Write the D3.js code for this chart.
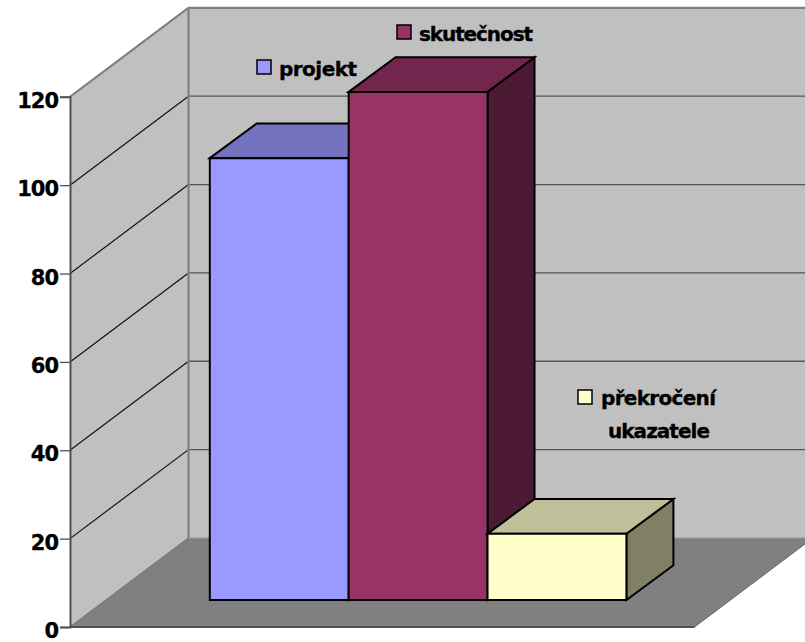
<!DOCTYPE html>
<html><head><meta charset="utf-8">
<script src="https://cdn.jsdelivr.net/npm/d3@7/dist/d3.min.js"></script>
<style>html,body{margin:0;padding:0;background:#fff}svg{display:block}
text{font-family:"DejaVu Sans",sans-serif;font-weight:700;fill:#000}</style>
</head><body><svg id="c" width="805" height="642"></svg>
<script>
const categories = ["projekt", "skutečnost", "překročení ukazatele"];
const values = [100, 115, 15];
const tickValues = [0, 20, 40, 60, 80, 100, 120];
const fills = ["#9999ff", "#993366", "#ffffcc"];
const tops = ["#7373bf", "#73264d", "#bfbf99"];
const sides = ["#4d4d80", "#4d1a33", "#808066"];

const svg = d3.select("#c");
const W = 805, H = 642;
const y = d3.scaleLinear().domain([0, 120]).range([627, 96.8]);
const wall = {dx: 118.5, dy: -89};
const right = 813;
const yBar = d3.scaleLinear().domain([0, 120]).range([600, 69.8]);
const x = d3.scaleBand().domain(categories).range([209.8, 626.4]);
const depth = {dx: 47, dy: -34.7};
const poly = (pts, fill, stroke, sw) => svg.append("polygon")
  .attr("points", pts.map(p => p.join(",")).join(" "))
  .attr("fill", fill).attr("stroke", stroke || "none").attr("stroke-width", sw || 0).attr("stroke-linejoin", "miter");
const line = (a, b, stroke, sw) => svg.append("line")
  .attr("x1", a[0]).attr("y1", a[1]).attr("x2", b[0]).attr("y2", b[1])
  .attr("stroke", stroke).attr("stroke-width", sw);

const x0 = 70, xb = x0 + wall.dx;
const yTop = y(120), yZero = y(0);
// back wall, side wall, floor
poly([[xb, yTop + wall.dy], [right, yTop + wall.dy], [right, yZero + wall.dy], [xb, yZero + wall.dy]], "#c0c0c0");
poly([[x0, yTop], [xb, yTop + wall.dy], [xb, yZero + wall.dy], [x0, yZero]], "#c0c0c0");
poly([[x0, yZero], [xb, yZero + wall.dy], [right, yZero + wall.dy], [right - wall.dx, yZero]], "#808080");
// gridlines
tickValues.filter(d => d > 0).forEach(d => {
  line([x0, y(d)], [xb, y(d) + wall.dy], "#111", 1.2);
  line([xb, y(d) + wall.dy], [right, y(d) + wall.dy], "#555", 1.3);
});
// wall edges
line([xb, yTop + wall.dy], [W, yTop + wall.dy], "#808080", 2.2);
line([xb, yTop + wall.dy], [xb, yZero + wall.dy], "#808080", 2.2);
line([x0, yTop], [xb, yTop + wall.dy], "#808080", 1.8);
line([x0, yZero], [xb, yZero + wall.dy], "#777", 1.2);
line([xb, yZero + wall.dy], [W, yZero + wall.dy], "#999", 1.2);
line([right - wall.dx, yZero], [W, yZero + wall.dy * (W - (right - wall.dx)) / wall.dx], "#666", 1);
line([x0, yZero], [right - wall.dx, yZero], "#505050", 2);

// value axis
const axis = d3.axisLeft(y).tickValues(tickValues).tickSize(10).tickPadding(2).tickFormat(d3.format("d"));
const ga = svg.append("g").attr("transform", `translate(${x0},0)`).call(axis);
ga.select(".domain").attr("stroke", "#505050").attr("stroke-width", 2);
ga.selectAll(".tick line").attr("stroke", "#505050").attr("stroke-width", 1.3);
ga.selectAll(".tick text").attr("font-size", 21).attr("font-family", '"DejaVu Sans"').attr("font-weight", 700)
  .attr("fill", "#000").attr("letter-spacing", -1).attr("dy", "0.5em").attr("stroke", "#000").attr("stroke-width", 0.3);

// bars
categories.forEach((c, i) => {
  const l = x(c), r = l + x.bandwidth(), t = yBar(values[i]), b = yBar(0);
  const {dx, dy} = depth;
  poly([[r, t], [r + dx, t + dy], [r + dx, b + dy], [r, b]], sides[i], "#000", 2);
  poly([[l, t], [l + dx, t + dy], [r + dx, t + dy], [r, t]], tops[i], "#000", 2);
  poly([[l, t], [r, t], [r, b], [l, b]], fills[i], "#000", 2);
});

// legend
const legendAt = [
  {sx: 257, sy: 60, lines: [{t: "projekt", x: 279, y: 76, w: 78}]},
  {sx: 397, sy: 25, lines: [{t: "skutečnost", x: 419, y: 41, w: 114}]},
  {sx: 578, sy: 390, lines: [{t: "překročení", x: 601, y: 405, w: 115}, {t: "ukazatele", x: 608, y: 438, w: 102}]}
];
categories.forEach((c, i) => {
  const p = legendAt[i];
  svg.append("rect").attr("x", p.sx).attr("y", p.sy).attr("width", 14).attr("height", 14)
    .attr("fill", fills[i]).attr("stroke", "#000").attr("stroke-width", 1.5);
  p.lines.forEach(l => svg.append("text").attr("x", l.x).attr("y", l.y)
    .attr("font-size", 20).attr("stroke", "#000").attr("stroke-width", 0.35)
    .attr("textLength", l.w).attr("lengthAdjust", "spacing").text(l.t));
});
</script></body></html>
